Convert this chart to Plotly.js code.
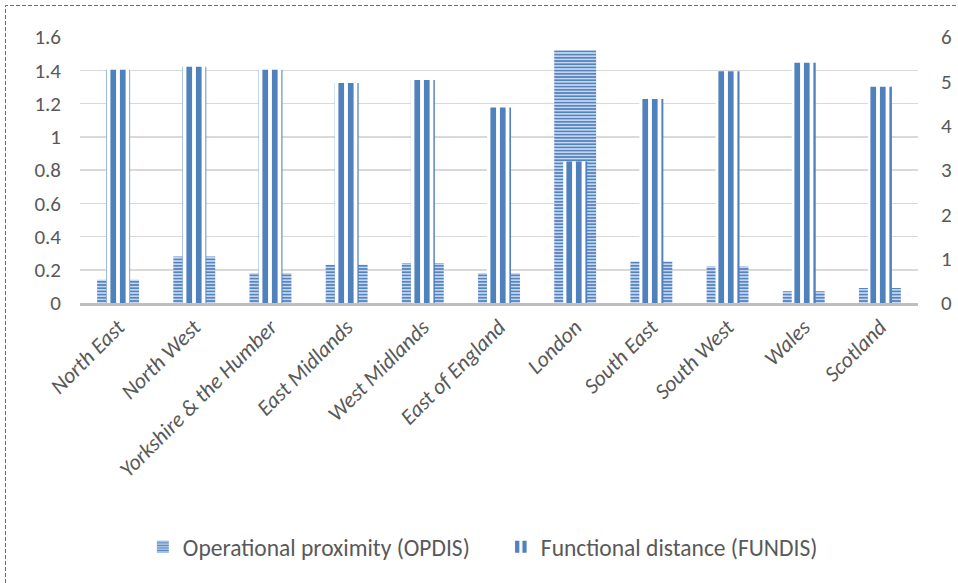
<!DOCTYPE html>
<html>
<head>
<meta charset="utf-8">
<script src="https://cdn.plot.ly/plotly-3.0.1.min.js"></script>
<style>
  html, body { margin: 0; padding: 0; background: #fff; }
  #chart { width: 958px; height: 583px; }
  #frame { position: absolute; left: 0; top: 0; pointer-events: none; }
</style>
</head>
<body>
<div id="chart"></div>
<svg id="frame" width="958" height="583">
  <path d="M5.5 583 V5.5 H958" fill="none" stroke="#3f74b8" stroke-width="1" stroke-dasharray="4 2"/>
</svg>
<script>
const regions = ["North East", "North West", "Yorkshire & the Humber", "East Midlands",
  "West Midlands", "East of England", "London", "South East", "South West", "Wales", "Scotland"];
const opdis = [0.14, 0.28, 0.18, 0.23, 0.24, 0.18, 1.52, 0.25, 0.22, 0.07, 0.09];
const fundis = [5.26, 5.33, 5.26, 4.96, 5.03, 4.41, 3.19, 4.60, 5.23, 5.42, 4.88];
const leftTicks = [0, 0.2, 0.4, 0.6, 0.8, 1, 1.2, 1.4, 1.6];
const rightTicks = [0, 1, 2, 3, 4, 5, 6];

const font = 'Calibri, Carlito, Lato, sans-serif';
const blue = '#4f81bd';

const traces = [
  {
    type: 'bar', name: 'Operational proximity (OPDIS)',
    x: regions, y: opdis, yaxis: 'y',
    width: 0.55, offset: -0.275,
    marker: { color: '#c6d6ec', line: { width: 0 },
      pattern: { shape: '-', fgcolor: '#5283c2', fgopacity: 1, size: 3.2, solidity: 0.5, fillmode: 'overlay' } },
    hoverinfo: 'skip'
  },
  {
    type: 'bar', name: 'Functional distance (FUNDIS)',
    x: regions, y: fundis, yaxis: 'y2',
    width: 0.315, offset: -0.1575,
    marker: { color: '#ffffff', line: { width: 0 },
      pattern: { shape: '|', fgcolor: blue, fgopacity: 1, size: 9.5, solidity: 0.6, fillmode: 'overlay' } },
    hoverinfo: 'skip'
  }
];

const layout = {
  width: 958, height: 583,
  margin: { l: 80, r: 40, t: 37, b: 280 },
  paper_bgcolor: '#ffffff', plot_bgcolor: '#ffffff',
  barmode: 'overlay',
  font: { family: font, color: '#595959', size: 21 },
  showlegend: true,
  legend: { orientation: 'h', x: 0.075, xanchor: 'left', y: -0.917, yanchor: 'middle',
    font: { family: font, size: 23.5, color: '#595959' }, itemwidth: 30,
    entrywidth: 313, entrywidthmode: 'pixels', traceorder: 'normal' },
  xaxis: {
    type: 'category', tickangle: -45,
    tickfont: { family: font, size: 22, color: '#595959', style: 'italic' },
    showline: true, linecolor: '#bfbfbf', linewidth: 2.5,
    showgrid: false, ticks: '', range: [-0.5, 10.5]
  },
  yaxis: {
    range: [0, 1.6], tickvals: leftTicks, ticktext: leftTicks.map(String),
    showgrid: true, gridcolor: '#d9d9d9', gridwidth: 1.5,
    zeroline: false, showline: false, ticks: '', ticklabelstandoff: 18,
    tickfont: { family: font, size: 21, color: '#595959' }
  },
  yaxis2: {
    overlaying: 'y', side: 'right', range: [0, 6],
    tickvals: rightTicks, ticktext: rightTicks.map(String),
    showgrid: false, zeroline: false, showline: false, ticks: '', ticklabelstandoff: 22,
    tickfont: { family: font, size: 21, color: '#595959' }
  }
};

Plotly.newPlot('chart', traces, layout, { displayModeBar: false, staticPlot: true });
</script>
</body>
</html>
